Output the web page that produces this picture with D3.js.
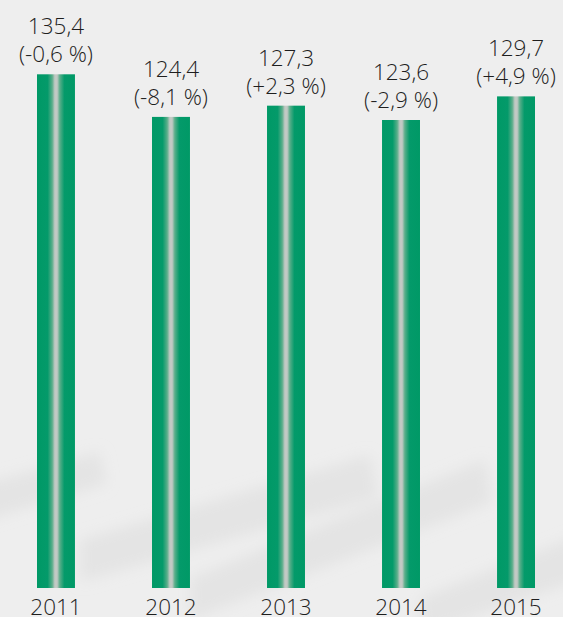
<!DOCTYPE html>
<html lang="en">
<head>
<meta charset="utf-8">
<title>Index 2011-2015</title>
<script src="https://d3js.org/d3.v7.min.js"></script>
<style>
  html, body { margin: 0; padding: 0; background: #eeeeee; }
  #chart svg { display: block; }
  .lbl { font-family: "Open Sans", sans-serif; font-size: 22.5px; font-weight: 350; fill: #1e1e1e; }
</style>
</head>
<body>
<div id="chart"></div>
<script>
// data
var years = ["2011", "2012", "2013", "2014", "2015"];
var values = [135.4, 124.4, 127.3, 123.6, 129.7];
var changes = ["(-0,6 %)", "(-8,1 %)", "(+2,3 %)", "(-2,9 %)", "(+4,9 %)"];

var width = 563, height = 617;
var plotBottom = 588;

var svg = d3.select("#chart").append("svg")
    .attr("width", width)
    .attr("height", height);

var defs = svg.append("defs");

// bar gradient: green edges, light grey centre
var grad = defs.append("linearGradient")
    .attr("id", "barGrad")
    .attr("x1", "0%").attr("x2", "100%")
    .attr("y1", "0%").attr("y2", "0%");
[[0, "#009966"], [0.28, "#049a6a"], [0.40, "#5aae8a"], [0.47, "#c2c9c4"],
 [0.53, "#c2c9c4"], [0.60, "#5aae8a"], [0.72, "#049a6a"], [1, "#009966"]]
  .forEach(function(s) {
    grad.append("stop").attr("offset", s[0]).attr("stop-color", s[1]);
  });

defs.append("filter").attr("id", "soft")
    .attr("x", "-20%").attr("y", "-50%").attr("width", "140%").attr("height", "200%")
  .append("feGaussianBlur").attr("stdDeviation", 7);

// background
svg.append("rect")
    .attr("width", width).attr("height", height)
    .attr("fill", "#eeeeee");

// faint diagonal shadow streaks
var streaks = [
  [[-20, 485], [100, 452], [106, 484], [-20, 522]],
  [[80, 540], [370, 455], [378, 497], [80, 582]],
  [[190, 578], [485, 460], [492, 502], [190, 620]],
  [[420, 598], [580, 535], [580, 580], [420, 635]]
];
svg.append("g").attr("filter", "url(#soft)")
  .selectAll("polygon")
  .data(streaks)
  .join("polygon")
    .attr("points", function(d) { return d.map(function(p) { return p.join(","); }).join(" "); })
    .attr("fill", "#dddddd")
    .attr("opacity", 0.6);

// scales
var x = d3.scaleBand()
    .domain(years)
    .range([37, 535])
    .paddingInner(0.67)
    .paddingOuter(0);

var y = d3.scaleLinear()
    .domain([0, 135.4])
    .range([598.7, 74.3]);

var data = years.map(function(yr, i) {
  return { year: yr, value: values[i], change: changes[i] };
});

// bars
svg.append("g")
  .selectAll("rect")
  .data(data)
  .join("rect")
    .attr("x", function(d) { return x(d.year); })
    .attr("y", function(d) { return y(d.value); })
    .attr("width", x.bandwidth())
    .attr("height", function(d) { return plotBottom - y(d.value); })
    .attr("fill", "url(#barGrad)");

// value labels
var lab = svg.append("g")
  .selectAll("g")
  .data(data)
  .join("g")
    .attr("transform", function(d) {
      return "translate(" + (x(d.year) + x.bandwidth() / 2) + "," + y(d.value) + ")";
    });

lab.append("text")
    .attr("class", "lbl")
    .attr("text-anchor", "middle")
    .attr("y", -40)
    .text(function(d) { return d3.format(".1f")(d.value).replace(".", ","); });

lab.append("text")
    .attr("class", "lbl")
    .attr("text-anchor", "middle")
    .attr("y", -12)
    .text(function(d) { return d.change; });

// year axis labels
var xAxis = svg.append("g")
    .attr("transform", "translate(0," + plotBottom + ")")
    .call(d3.axisBottom(x).tickSize(0).tickPadding(27));
xAxis.select(".domain").remove();
xAxis.attr("font-size", null).attr("font-family", null);
xAxis.selectAll("text")
    .attr("class", "lbl")
    .attr("dy", 0)
    .attr("fill", null);
</script>
</body>
</html>
